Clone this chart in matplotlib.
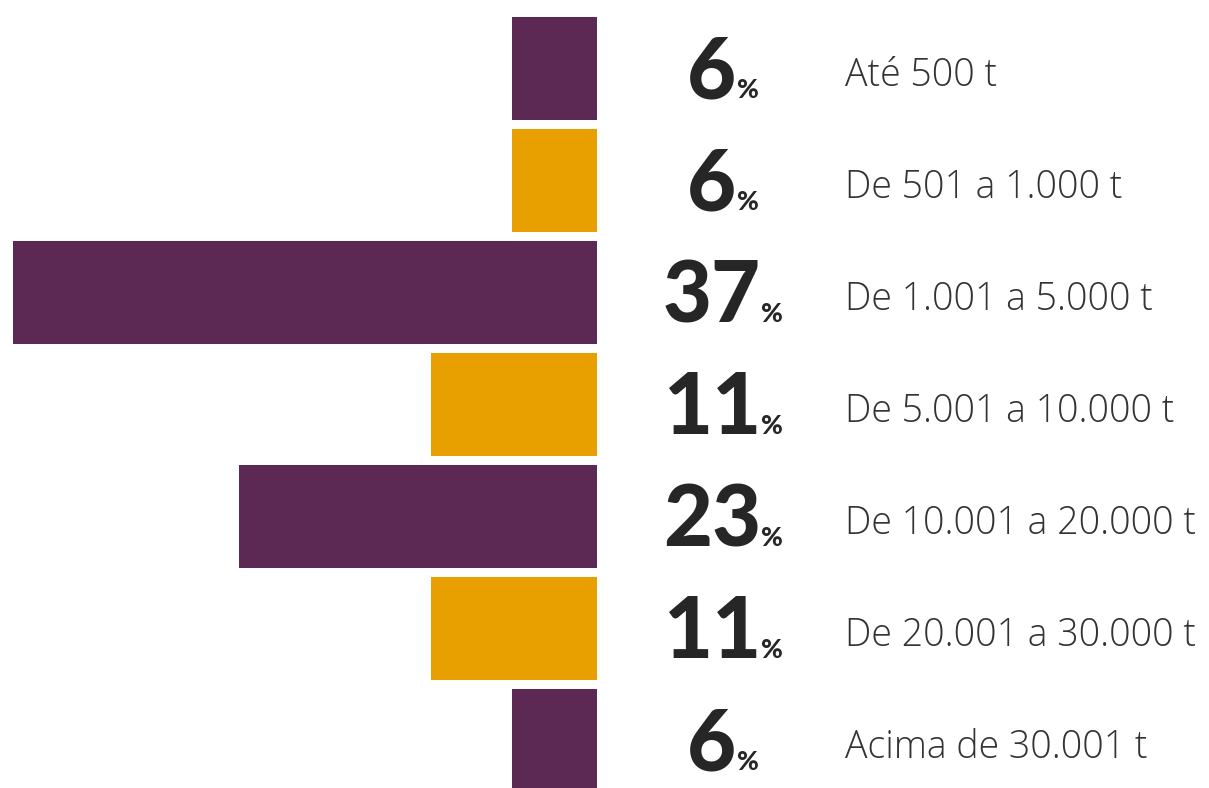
import matplotlib
matplotlib.use("Agg")
import matplotlib.pyplot as plt

categories = ["Até 500 t", "De 501 a 1.000 t", "De 1.001 a 5.000 t", "De 5.001 a 10.000 t",
              "De 10.001 a 20.000 t", "De 20.001 a 30.000 t", "Acima de 30.001 t"]
percent_labels = [6, 6, 37, 11, 23, 11, 6]
bar_lengths = [5.4, 5.4, 37, 10.5, 22.7, 10.5, 5.4]
colors = ["#5C2854", "#E8A000", "#5C2854", "#E8A000", "#5C2854", "#E8A000", "#5C2854"]

W, H = 1209, 788
fig = plt.figure(figsize=(W / 100, H / 100), dpi=100)
ax = fig.add_axes([0, 0, 1, 1])
ax.axis("off")

k = 584 / 37.0  # px per unit
x0 = 597
ax.set_xlim(x0 / k, -(W - x0) / k)
pitch = 112.0
c0 = 68.5
ax.set_ylim((H - c0) / pitch, -c0 / pitch)

ys = list(range(len(categories)))
ax.barh(ys, bar_lengths, height=103 / pitch, color=colors, left=0)

fig.canvas.draw()
renderer = fig.canvas.get_renderer()

num_font = dict(family=["Lato", "DejaVu Sans"], weight="black", color="#262626")
lab_font = dict(family=["Open Sans", "DejaVu Sans"], weight="light", color="#333333")

group_center_px = 723
for i, (cat, p) in enumerate(zip(categories, percent_labels)):
    yc = c0 + pitch * i
    base_px = yc + 30  # baseline of number (from top)
    t1 = fig.text(0, 1 - base_px / H, str(p), fontsize=61, ha="left", va="baseline", **num_font)
    t2 = fig.text(0, 1 - base_px / H, "%", fontsize=19, ha="left", va="baseline", **num_font)
    w1 = t1.get_window_extent(renderer).width
    w2 = t2.get_window_extent(renderer).width
    gap = 0.5
    total = w1 + gap + w2
    start = group_center_px - total / 2
    t1.set_x(start / W)
    t2.set_x((start + w1 + gap) / W)
    lab_base = yc + 17.5
    fig.text(845 / W, 1 - lab_base / H, cat, fontsize=27, ha="left", va="baseline", **lab_font)

fig.savefig("out.png", dpi=100)
